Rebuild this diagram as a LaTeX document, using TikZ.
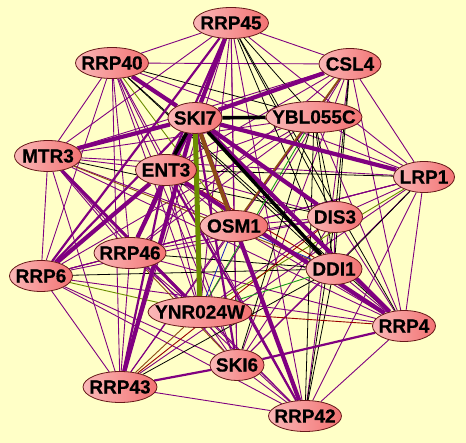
\documentclass[tikz,border=0pt]{standalone}
\usepackage{fontspec}
\setmainfont{Liberation Sans}
\newfontfamily\protfont[FakeBold=0.6]{Liberation Sans Bold}
\usetikzlibrary{shapes.geometric}
\definecolor{paleyellow}{rgb}{1, 1, 0.78}
\definecolor{linkpurple}{rgb}{0.5, 0, 0.5}
\definecolor{linkolive}{rgb}{0.42, 0.55, 0}
\definecolor{linkbrown}{rgb}{0.55, 0.3, 0.08}
\definecolor{linkgreen}{rgb}{0.1, 0.6, 0.1}
\definecolor{linkblue}{rgb}{0.1, 0.1, 0.75}
\definecolor{linkred}{rgb}{0.6, 0, 0}
\definecolor{pinkleft}{rgb}{0.98, 0.72, 0.72}
\definecolor{pinkmid}{rgb}{1, 0.84, 0.84}
\definecolor{pinkright}{rgb}{0.95, 0.45, 0.45}
\definecolor{protedge}{rgb}{0.4, 0.1, 0.1}
\pgfdeclarelayer{paper}
\pgfdeclarelayer{links}
\pgfsetlayers{paper,links,main}
\newcommand{\pname}[1]{\makebox[0pt]{#1}}
\tikzset{
  prot/.style={
    ellipse,
    draw=protedge,
    line width=.8pt,
    left color=pinkleft,
    middle color=pinkmid,
    right color=pinkright,
    minimum height=31pt,
    inner sep=0pt,
    font=\protfont\fontsize{19}{21}\selectfont
  },
  thinp/.style={linkpurple, line width=.9pt},
  thinb/.style={black, line width=.8pt},
  midp/.style={linkpurple, line width=2.2pt},
  fatp/.style={linkpurple, line width=4.2pt},
  fatb/.style={black, line width=3.6pt}
}

\begin{document}
\begin{tikzpicture}[x=1pt, y=-1pt]
\useasboundingbox (0,0) rectangle (466,443);
\begin{pgfonlayer}{paper}
\fill[paleyellow] (0,0) rectangle (466,443);
\end{pgfonlayer}

% proteins
\node[prot, minimum width=75pt] (r45) at (231,23) {\pname{RRP45}};
\node[prot, minimum width=73pt] (r40) at (112,63) {\pname{RRP40}};
\node[prot, minimum width=62pt] (csl4) at (350,64) {\pname{CSL4}};
\node[prot, minimum width=54pt] (ski7) at (195,118) {\pname{SKI7}};
\node[prot, minimum width=96pt] (ybl) at (314,117) {\pname{YBL055C}};
\node[prot, minimum width=67pt] (mtr3) at (48,156) {\pname{MTR3}};
\node[prot, minimum width=61pt] (ent3) at (166,170) {\pname{ENT3}};
\node[prot, minimum width=61pt] (lrp1) at (424,177) {\pname{LRP1}};
\node[prot, minimum width=68pt] (osm1) at (234,226) {\pname{OSM1}};
\node[prot, minimum width=55pt] (dis3) at (335,217) {\pname{DIS3}};
\node[prot, minimum width=72pt] (r46) at (130,253) {\pname{RRP46}};
\node[prot, minimum width=56pt] (ddi1) at (334,269) {\pname{DDI1}};
\node[prot, minimum width=63pt] (r6) at (41,276) {\pname{RRP6}};
\node[prot, minimum width=104pt] (ynr) at (200,312) {\pname{YNR024W}};
\node[prot, minimum width=63pt] (r4) at (404,326) {\pname{RRP4}};
\node[prot, minimum width=54pt] (ski6) at (237,365) {\pname{SKI6}};
\node[prot, minimum width=74pt] (r43) at (120,387) {\pname{RRP43}};
\node[prot, minimum width=73pt] (r42) at (305,416) {\pname{RRP42}};

\begin{pgfonlayer}{links}
% thin purple links
\path[thinp] (r45) edge (r40) edge (csl4) edge (mtr3) edge (osm1) edge (lrp1)
  edge (r46) edge (ynr) edge (ski6) edge (r43) edge (r42);
\path[thinp] (r40) edge (csl4) edge (mtr3) edge (ent3) edge (r46) edge (r6)
  edge (ynr) edge (ski6) edge (r43) edge (r42) edge (lrp1) edge (dis3);
\path[thinp] (csl4) edge (ent3) edge (lrp1) edge (r46) edge (ynr) edge (ski6)
  edge (r42) edge (r4) edge (ybl) edge (mtr3);
\path[thinp] (ybl) edge (mtr3) edge (ent3) edge (lrp1) edge (r46) edge (r6)
  edge (r43) edge (r4) edge (osm1);
\path[thinp] (mtr3) edge (ent3) edge (r46) edge (r6) edge (r43) edge (ski6)
  edge (osm1) edge (r42) edge (r4) edge (lrp1);
\path[thinp] (ent3) edge (osm1) edge (r46) edge (ynr) edge (ski6) edge (dis3);
\path[thinp] (lrp1) edge (osm1) edge (dis3) edge (r4) edge (r42) edge (ski6)
  edge (r46) edge (r6) edge (r43);
\path[thinp] (osm1) edge (dis3) edge (r46) edge (r6) edge (ski6) edge (r43)
  edge (r4);
\path[thinp] (dis3) edge (ddi1) edge (r46) edge (r6) edge (ynr) edge (ski6)
  edge (r4);
\path[thinp] (r46) edge (r6) edge (ynr) edge (r43) edge (r42) edge (r4);
\path[thinp] (ddi1) edge (ski6) edge (r4);
\path[thinp] (r6) edge (ski6) edge (r43) edge (r42) edge (r4);
\path[thinp] (ynr) edge (ski6) edge (r42);
\path[thinp] (r4) edge (r42);
\path[thinp] (ski6) edge (r42);
\path[thinp] (r43) edge (r42);
% thin black links
\path[thinb] (r45) edge (dis3) edge (ddi1) edge (r4) edge (ybl);
\path[thinb] (r40) edge (ybl) edge (ddi1) edge (r4);
\path[thinb] (csl4) edge (ddi1) edge (dis3);
\path[thinb] (ybl) edge (dis3) edge (ddi1) edge (r42) edge (ski6);
\path[thinb] (mtr3) edge (dis3);
\path[thinb] (ent3) edge (lrp1);
\path[thinb] (lrp1) edge (ddi1);
\path[thinb] (dis3) edge (r42);
\path[thinb] (ddi1) edge (r6) edge (r43) edge (r42) edge (r46);
% thin coloured links
\path[linkbrown, line width=.9pt] (mtr3) edge (ddi1) (r43) edge (ynr) (r46) edge (ski6);
\path[linkbrown, line width=1.8pt] (csl4) edge (osm1);
\path[linkolive, line width=.9pt] (r40) edge (osm1) (r6) edge (ynr) (lrp1) edge (ynr);
\path[linkgreen, line width=.9pt] (ybl) edge (ynr) (ynr) edge (ddi1);
\path[linkblue, line width=.8pt] (osm1) edge (ddi1) (osm1) edge (ynr);
\path[linkred, line width=.9pt] (ynr) edge (r4) (r43) edge (dis3) (ent3) edge (ddi1);
% heavy links
\path[midp] (ski7) edge (r6) edge (ski6);
\path[midp] (ent3) edge (r42) edge (r43);
\path[midp] (r45) edge (ent3) edge (r6);
\path[midp] (ski6) edge (r43) edge (r4);
\path[midp, line width=3pt] (mtr3) edge (ynr);
\path[fatp] (ski7) edge (r45) edge (r40) edge (csl4) edge (mtr3) edge (lrp1)
  edge (dis3) edge (r46) edge (r4) edge (r43) edge (r42);
\path[fatp] (ent3) edge (r6) edge (r4);
\path[fatb] (ski7) edge (ybl) edge (ent3) edge (ddi1);
\path[linkbrown, line width=4pt] (ski7) edge (osm1);
\path[linkolive, line width=5pt] (ski7) edge (ynr);
\end{pgfonlayer}
\end{tikzpicture}
\end{document}
